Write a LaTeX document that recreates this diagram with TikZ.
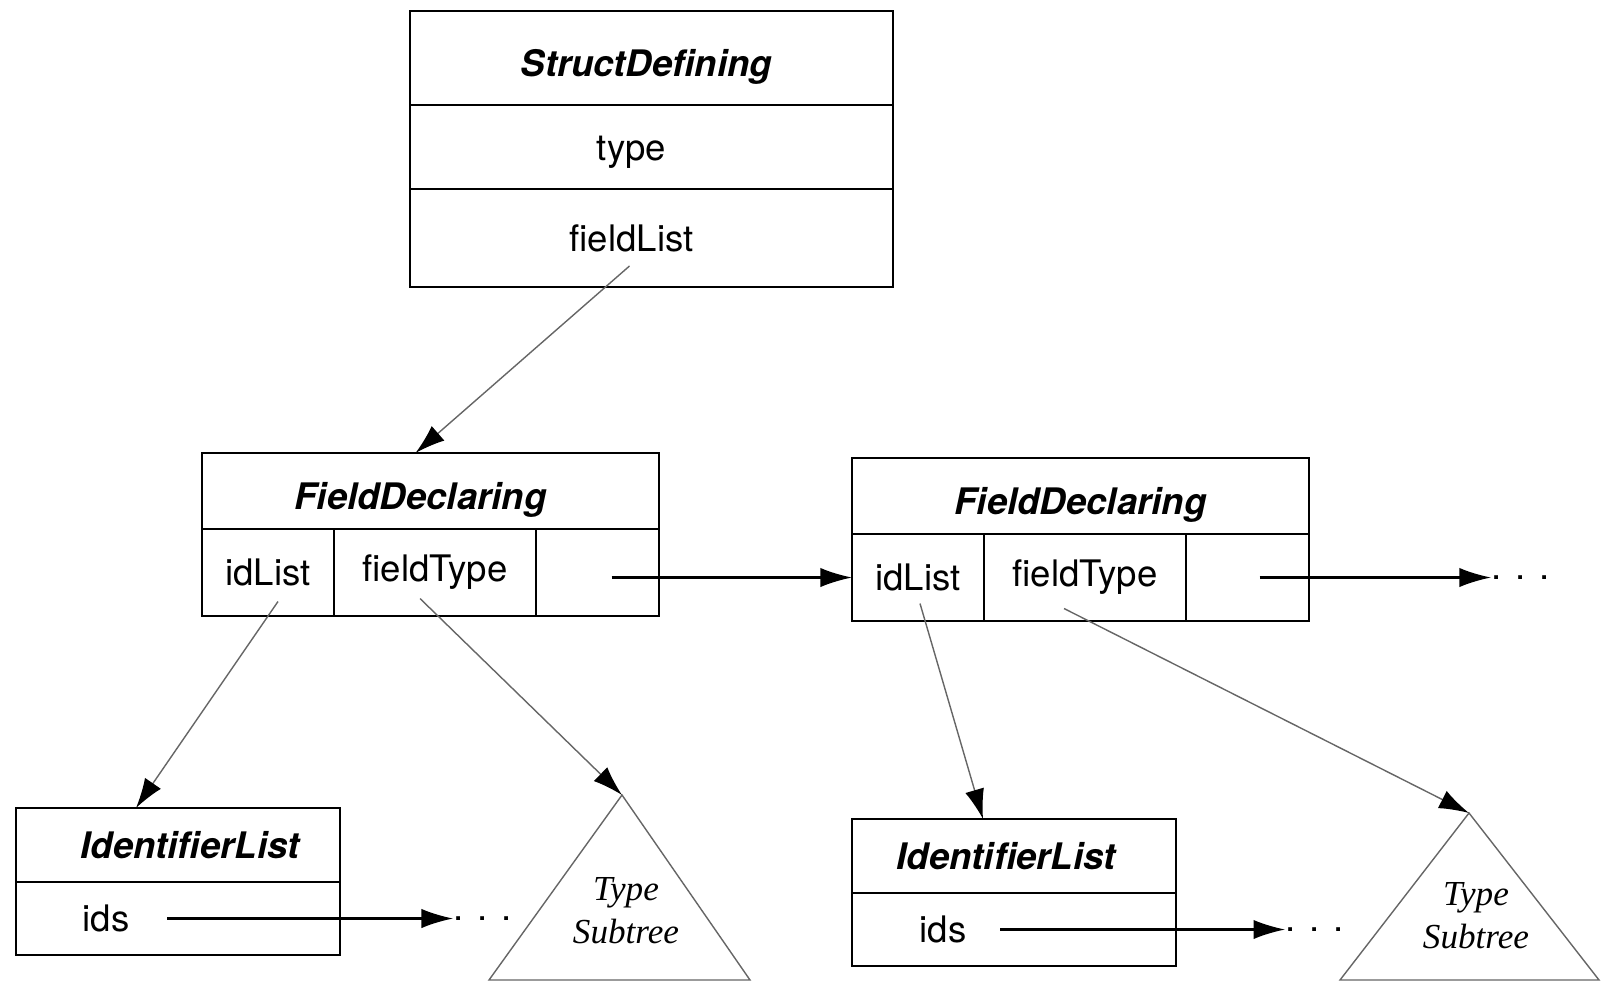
\documentclass[tikz,border=0pt]{standalone}
\usepackage{fontspec}
\setmainfont{TeX Gyre Heros}
\newfontfamily\treefont{Liberation Serif}
\usetikzlibrary{positioning,arrows.meta}
\newcommand\nudge[2]{\hspace*{#1}#2\hspace*{-#1}}

\begin{document}
\begin{tikzpicture}
    [x=0.1mm,y=-0.1mm,
     box/.style={rectangle,draw,line width=0.8pt,outer sep=0pt,inner sep=0pt,font=\fontsize{10.4}{12}\selectfont},
     head/.style={box,font=\fontsize{10.4}{12}\selectfont\bfseries\itshape},
     low/.style={text height=13pt,text depth=2.2pt},
     idcell/.style={box,minimum width=13.2mm,minimum height=8.7mm},
     typecell/.style={box,minimum width=20.2mm,minimum height=8.7mm},
     nextcell/.style={box,minimum width=12.3mm,minimum height=8.7mm},
     link/.style={-{Latex[length=9pt,width=5.5pt]},line width=0.6pt},
     ptr/.style={-{Latex[length=8.5pt,width=5.5pt,color=black]},line width=0.4pt,draw=black!60},
     tree/.style={draw=black!60,line width=0.4pt},
     more/.style={inner sep=0pt,font=\fontsize{10.4}{12}\selectfont},
     sub/.style={align=center,font=\treefont\itshape\fontsize{10}{12.2}\selectfont}]
    \useasboundingbox (0,0) rectangle (1604,983);

    \node[head,low,minimum width=48.3mm,minimum height=9.4mm,anchor=north west] (sd) at (410,11) {\nudge{-0.5mm}{StructDefining}};
    \node[box,text height=10pt,minimum width=48.3mm,minimum height=8.4mm] (sdtype) [below=0pt of sd] {\nudge{-2mm}{type}};
    \node[box,minimum width=48.3mm,minimum height=9.8mm] (sdfields) [below=0pt of sdtype] {\nudge{-2mm}{fieldList}};

    \node[head,low,minimum width=45.7mm,minimum height=7.6mm,anchor=north west] (fd1) at (202,453) {\nudge{-1mm}{FieldDeclaring}};
    \node[idcell,anchor=north west] (fd1i) at (fd1.south west) {idList};
    \node[typecell] (fd1t) [right=0pt of fd1i] {fieldType};
    \node[nextcell] (fd1n) [right=0pt of fd1t] {};

    \node[head,low,minimum width=45.7mm,minimum height=7.6mm,anchor=north west] (fd2) at (852,458) {FieldDeclaring};
    \node[idcell,anchor=north west] (fd2i) at (fd2.south west) {idList};
    \node[typecell] (fd2t) [right=0pt of fd2i] {fieldType};
    \node[nextcell] (fd2n) [right=0pt of fd2t] {};
    \node[more] (more3) [right=18.2mm of fd2n] {. . .};

    \node[head,minimum width=32.4mm,minimum height=7.4mm,anchor=north west] (il1) at (16,808) {\nudge{1.2mm}{IdentifierList}};
    \node[box,minimum width=32.4mm,minimum height=7.3mm] (il1r) [below=0pt of il1] {};
    \node (ids1) [more,right=6.6mm of il1r.west] {ids};
    \node[more] (more1) [right=32.3mm of ids1] {. . .};

    \node[head,minimum width=32.4mm,minimum height=7.4mm,anchor=north west] (il2) at (852,819) {\nudge{-0.8mm}{IdentifierList}};
    \node[box,minimum width=32.4mm,minimum height=7.3mm] (il2r) [below=0pt of il2] {};
    \node (ids2) [more,right=6.7mm of il2r.west] {ids};
    \node[more] (more2) [right=31.8mm of ids2] {. . .};

    % type subtrees
    \node[sub] (sub1) at (626,911) {Type\\Subtree};
    \coordinate (top1) at (622,795);
    \draw[tree] (top1) -- ++(-133,185) -- ++(261,0) -- cycle;
    \node[sub] (sub2) at (1476,916) {Type\\Subtree};
    \coordinate (top2) at (1469,813);
    \draw[tree] (top2) -- ++(-129,167) -- ++(259,0) -- cycle;

    \draw[ptr] ([shift={(-22,28)}]sdfields.center) -- ([xshift=-1.5mm]fd1.north);
    \draw[link] ([xshift=1.4mm]fd1n.center |- fd2i.west) -- (fd2i.west);
    \draw[link] ([xshift=1.2mm]fd2n.center) -- (more3.west);
    \draw[ptr] ([shift={(10,29)}]fd1i.center) -- ([xshift=-4.2mm]il1.north);
    \draw[ptr] ([shift={(-15,26)}]fd1t.center) -- (top1);
    \draw[ptr] ([shift={(2,26)}]fd2i.center) -- ([xshift=-3.1mm]il2.north);
    \draw[ptr] ([shift={(-21,31)}]fd2t.center) -- (top2);
    \draw[link] ([xshift=3.7mm]ids1.east) -- (more1.west);
    \draw[link] ([xshift=3.3mm]ids2.east) -- (more2.west);
\end{tikzpicture}
\end{document}
